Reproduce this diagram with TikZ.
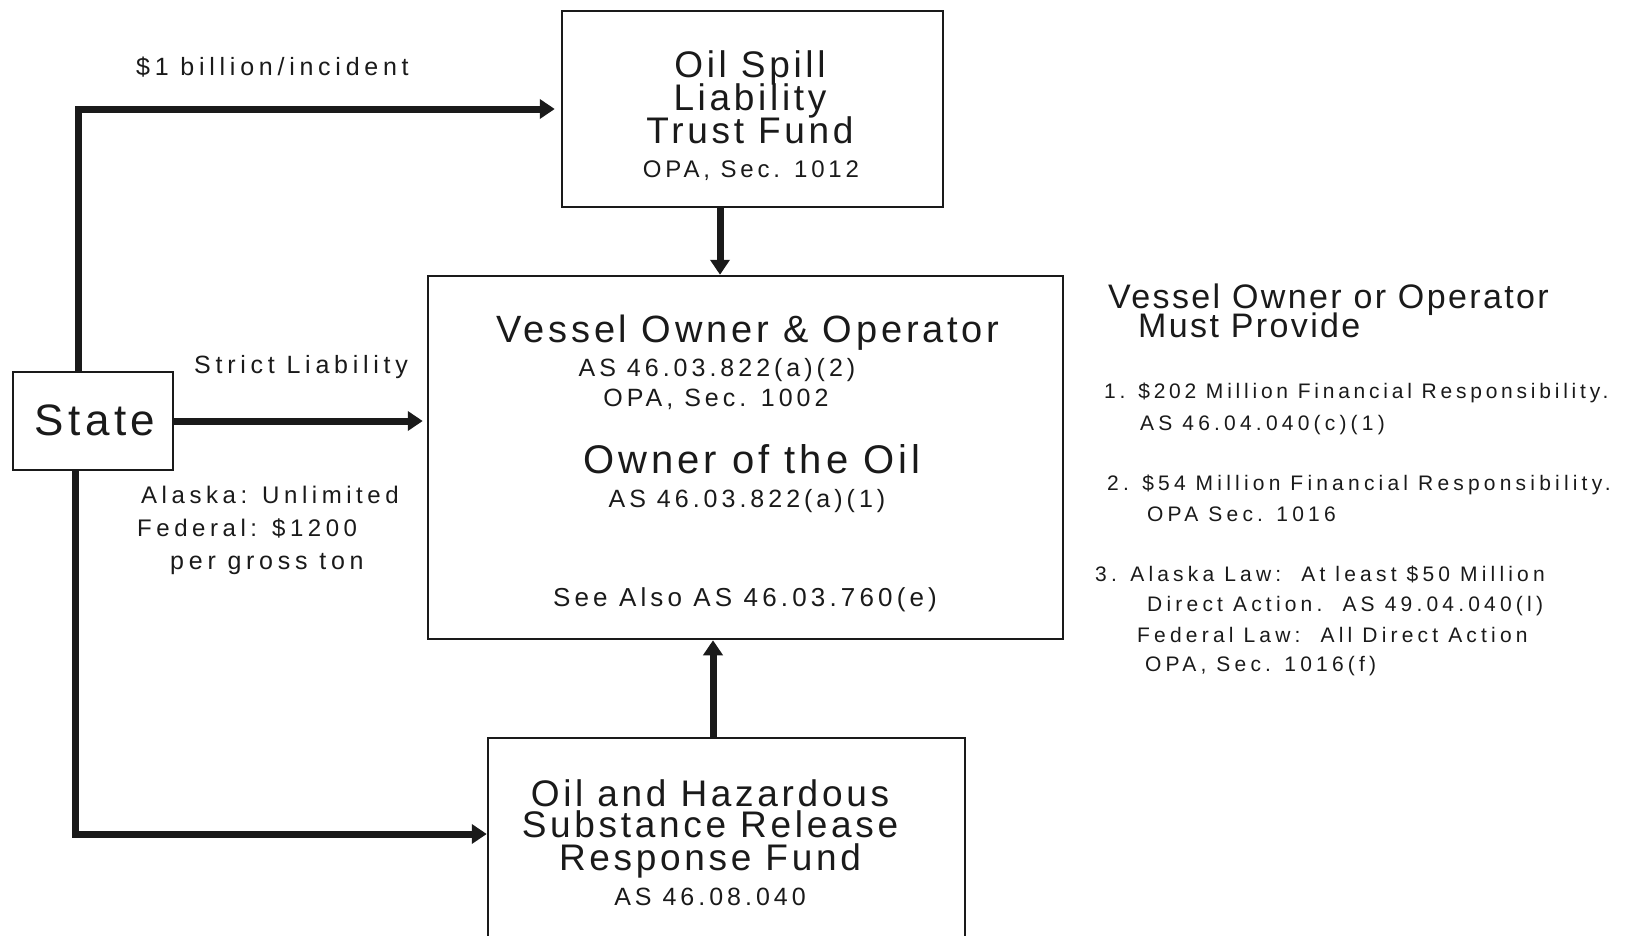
\documentclass[tikz,border=0pt]{standalone}
\usepackage{fontspec}
\setmainfont{Liberation Sans}
\newfontfamily\ftitle[LetterSpace=10]{Liberation Sans}
\newfontfamily\fhead[LetterSpace=7]{Liberation Sans}
\newfontfamily\fref[LetterSpace=16]{Liberation Sans}
\newfontfamily\flab[LetterSpace=19]{Liberation Sans}
\newfontfamily\fitem[LetterSpace=20]{Liberation Sans}
\newfontfamily\fitemn[LetterSpace=18]{Liberation Sans}
\usetikzlibrary{arrows.meta}
\definecolor{ink}{HTML}{1A1A1A}
\tikzset{
  box/.style={draw=ink, line width=2.5pt, rectangle, inner sep=0pt},
  ttl/.style={font=\ftitle\fontsize{37}{37}\selectfont, anchor=base, inner sep=0pt, text=ink},
  bigttl/.style={font=\ftitle\fontsize{44}{44}\selectfont, anchor=base, inner sep=0pt, text=ink},
  refx/.style={font=\fref\fontsize{25}{25}\selectfont, anchor=base, inner sep=0pt, text=ink},
  lab/.style={font=\flab\fontsize{25}{25}\selectfont, anchor=base west, inner sep=0pt, text=ink},
  hd/.style={font=\fhead\fontsize{34}{34}\selectfont, anchor=base west, inner sep=0pt, text=ink},
  itm/.style={font=\fitem\fontsize{21}{21}\selectfont, anchor=base west, inner sep=0pt, text=ink},
  arr/.style={draw=ink, line width=7pt, -{Triangle[length=15pt,width=19pt]}},
}
\begin{document}
\begin{tikzpicture}[x=1pt,y=-1pt]
\useasboundingbox (0,0) rectangle (1633,935);
\fill[white] (0,0) rectangle (1633,935);

% boxes
\node[box, minimum width=381pt, minimum height=196pt] (trust) at (752.5,109) {};
\node[box, minimum width=635pt, minimum height=363pt] (main) at (745.5,457.5) {};
\node[box, minimum width=477pt, minimum height=204pt] (fund) at (726.5,840) {};
\node[box, minimum width=160pt, minimum height=98pt] (state) at (93,421) {};

% box texts
\node[ttl] (t1) at (750,77) {Oil Spill};
\node[ttl] (t2) at (750,110) {Liability};
\node[ttl] (t3) at (750,143) {Trust Fund};
\node[refx, font=\fref\fontsize{24}{24}\selectfont] (t4) at (751,177) {OPA, Sec. 1012};

\node[ttl, font=\ftitle\fontsize{38}{38}\selectfont] (m1) at (748,342) {Vessel Owner \& Operator};
\node[refx] (m2) at (717,376) {AS 46.03.822(a)(2)};
\node[refx] (m3) at (716,406) {OPA, Sec. 1002};
\node[ttl, font=\ftitle\fontsize{40}{40}\selectfont] (m4) at (752,473) {Owner of the Oil};
\node[refx] (m5) at (747,507) {AS 46.03.822(a)(1)};
\node[refx, font=\fref\fontsize{26}{26}\selectfont] (m6) at (745,606) {See Also AS 46.03.760(e)};

\node[ttl] (f1) at (710,806) {Oil and Hazardous};
\node[ttl] (f2) at (710,837) {Substance Release};
\node[ttl] (f3) at (710,870) {Response Fund};
\node[refx] (f4) at (710,905) {AS 46.08.040};

\node[bigttl] (s1) at (95,435) {State};

% connectors
\coordinate (lowcorner) at (75,834);
\draw[arr, shorten >=6pt] ([xshift=-15pt]state.north) |- (trust.west);
\draw[arr, shorten >=4pt] (state.east) -- (state.east -| main.west);
\draw[arr] ([xshift=-18pt]state.south) -- (lowcorner) -- (lowcorner -| fund.west);
\draw[arr] ([xshift=-32.5pt]trust.south) -- ([xshift=-32.5pt]trust.south |- main.north);
\draw[arr] (fund.north -| 713,0) -- (main.south -| 713,0);

% labels
\node[lab] (l1) at (136,75) {\$1 billion/incident};
\node[lab] (l2) at (194,373) {Strict Liability};
\node[lab, font=\flab\fontsize{24}{24}\selectfont] (l3) at (141,503) {Alaska: Unlimited};
\node[lab, font=\flab\fontsize{24}{24}\selectfont] (l4) at (137,536) {Federal: \$1200};
\node[lab] (l5) at (170,569) {per gross ton};

% right column
\node[hd] (r1) at (1108,308) {Vessel Owner or Operator};
\node[hd] (r2) at (1138,337) {Must Provide};
\node[itm, font=\fitemn\fontsize{21}{21}\selectfont] (i1) at (1104,398) {1. \$202 Million Financial Responsibility.};
\node[itm] (i1b) at (1140,430) {AS 46.04.040(c)(1)};
\node[itm] (i2) at (1107,490) {2. \$54 Million Financial Responsibility.};
\node[itm] (i2b) at (1147,521) {OPA Sec. 1016};
\node[itm] (i3) at (1095,581) {3. Alaska Law:\ \ At least \$50 Million};
\node[itm] (i3b) at (1147,611) {Direct Action.\ \ AS 49.04.040(l)};
\node[itm] (i3c) at (1137,642) {Federal Law:\ \ All Direct Action};
\node[itm] (i3d) at (1145,671) {OPA, Sec. 1016(f)};
\end{tikzpicture}
\end{document}
